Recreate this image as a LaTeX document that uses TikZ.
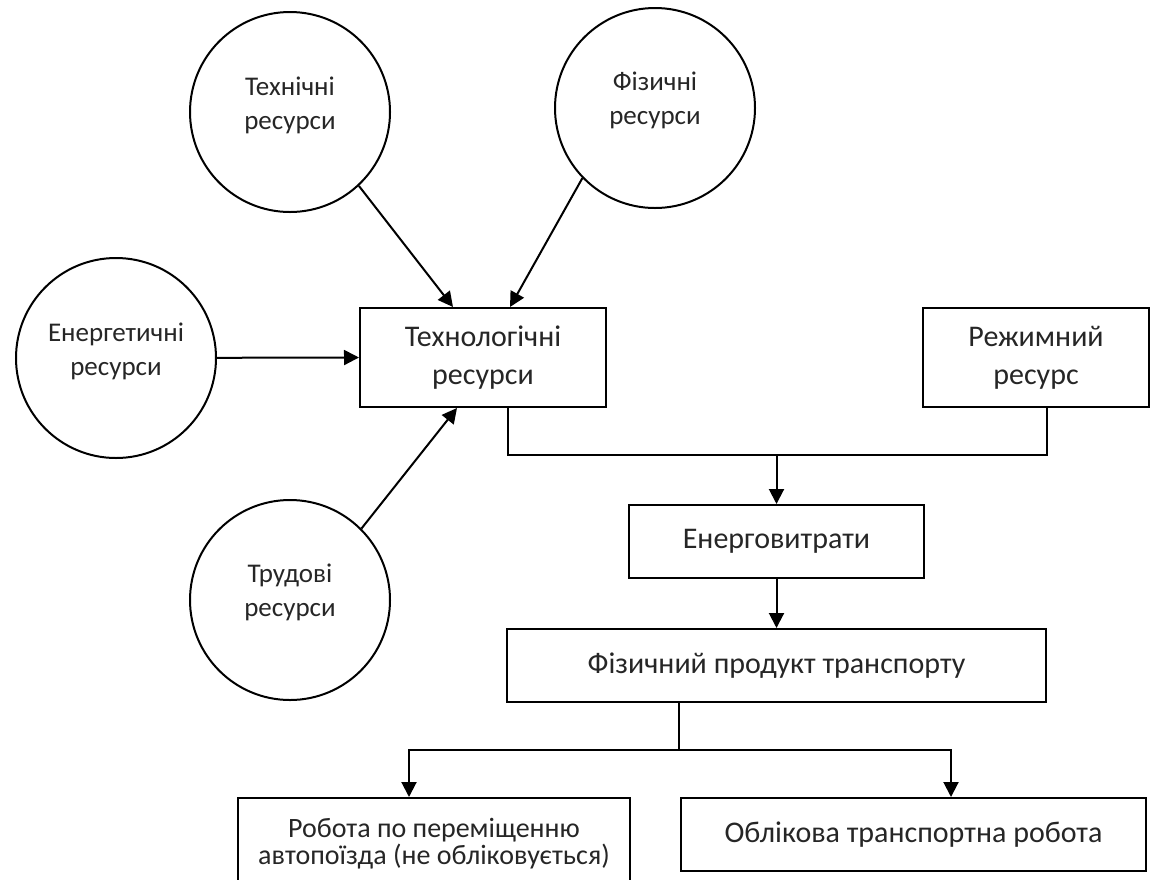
\documentclass[tikz,border=0pt]{standalone}
\usepackage{fontspec}
\setmainfont{Carlito}
\usetikzlibrary{positioning}
\usetikzlibrary{arrows.meta}
\tikzset{rescircle/.style={circle,draw=black,line width=1pt,
minimum size=100pt,inner sep=0pt}}
\tikzset{restext/.style={align=center,inner sep=0pt,text=black!85,
font=\fontsize{13.5}{17}\selectfont}}
\tikzset{resbox/.style={rectangle,draw=black,fill=white,line width=1pt,
align=center,inner sep=2pt,text=black!85,font=\fontsize{15}{19}\selectfont}}
\tikzset{resarrow/.style={line width=1pt,-{Triangle[length=7.5pt,width=7.5pt]}}}
\tikzset{resline/.style={line width=1pt}}

\begin{document}
\begin{tikzpicture}[x=0.5pt,y=-0.5pt]
    \useasboundingbox (0,0) rectangle (1150,879);

    % resources
    \node[rescircle] (techres) at (290,112) {};
    \node[rescircle] (physres) at (655,108) {};
    \node[rescircle] (enres) at (116,358) {};
    \node[rescircle] (labres) at (290,600) {};

    \node[restext] (techrestext) at ([yshift=3.5pt]techres) {Технічні\\ресурси};
    \node[restext] (physrestext) at ([yshift=4pt]physres) {Фізичні\\ресурси};
    \node[restext] (enrestext) at ([yshift=3.5pt]enres) {Енергетичні\\ресурси};
    \node[restext] (labrestext) at ([yshift=4pt]labres) {Трудові\\ресурси};

    % boxes
    \node[resbox,minimum width=123pt,minimum height=49.5pt] (tech) at (483,357.5) {Технологічні\\ресурси};
    \node[resbox,minimum width=113pt,minimum height=49.5pt] (regime) at (1036,357.5) {Режимний\\ресурс};
    \node[resbox,minimum width=147.5pt,minimum height=36.5pt] (energy) at (776.5,541.5) {Енерговитрати};
    \node[resbox,minimum width=269.5pt,minimum height=36.5pt] (product) [below=24.5pt of energy] {Фізичний продукт транспорту};
    \node[resbox,minimum width=196pt,minimum height=46pt,font=\fontsize{14}{13.5}\selectfont] (move) at (434,844) {Робота по переміщенню\\автопоїзда (не обліковується)};
    \node[resbox,minimum width=232.5pt,minimum height=36.5pt] (record) [right=24.5pt of move.north east,anchor=north west] {Облікова транспортна робота};

    % arrows into technology resources
    \draw[resarrow] (techres.313) -- ([xshift=-15pt]tech.north);
    \draw[resarrow] (physres.224) -- ([xshift=13.5pt]tech.north);
    \draw[resarrow] (enres) -- (tech.west);
    \draw[resarrow] (labres.45) -- ([xshift=-13pt]tech.south);

    \coordinate (join) at (776.5,455);
    \draw[resline] ([xshift=12.5pt]tech.south) |- (join) -| ([xshift=5.5pt]regime.south);
    \draw[resarrow] (join) -- (energy);
    \draw[resarrow] (energy) -- (product);

    \coordinate (split) at (679,750);
    \draw[resline] (split |- product.south) -- (split);
    \draw[resarrow] (split) -| ([xshift=-12.5pt]move.north);
    \draw[resarrow] (split) -| ([xshift=18.75pt]record.north);

\end{tikzpicture}
\end{document}
